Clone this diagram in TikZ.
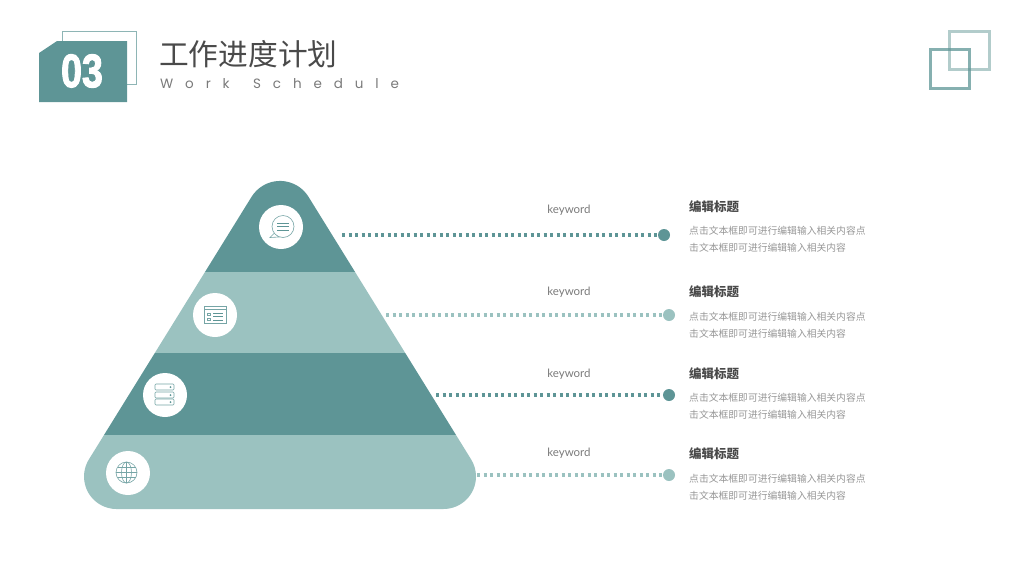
\documentclass[tikz,border=0pt]{standalone}
\usepackage{fontspec}
\setmainfont{Noto Sans CJK SC}
\newfontfamily\latinfont{Lato}
\newfontfamily\schedfont[LetterSpace=88]{Poppins}
\newfontfamily\numfont[BoldFeatures={FakeBold=2.4}]{Liberation Sans}
\definecolor{tealdark}{HTML}{5E9596}
\definecolor{teallight}{HTML}{9BC2C0}
\definecolor{framelight}{HTML}{B2CCCB}
\definecolor{titlegray}{HTML}{4A4A4A}
\definecolor{schedgray}{HTML}{7A7A7A}
\definecolor{bodygray}{HTML}{969696}
\tikzstyle{iconback}=[circle,fill=white,minimum size=44pt,inner sep=0pt]
\tikzstyle{enddot}=[circle,minimum size=12pt,inner sep=0pt]
\tikzstyle{dotline}=[line width=3.4pt,dash pattern=on 3.4pt off 3.1pt]
\tikzstyle{keyword}=[font=\latinfont\fontsize{11.5}{14}\selectfont,text=schedgray]
\tikzstyle{heading}=[anchor=west,inner sep=0pt,font=\bfseries\fontsize{12.5}{15}\selectfont,text=titlegray]
\tikzstyle{bodytext}=[anchor=west,inner sep=0pt,align=left,font=\fontsize{9.8}{17}\selectfont,text=bodygray]
\tikzstyle{iconline}=[draw=tealdark!85,line width=0.6pt]
\begin{document}
\begin{tikzpicture}[x=1pt,y=-1pt]
\useasboundingbox (0,0) rectangle (1024,576);

    % header
    \draw[draw=tealdark!70,line width=1pt] (62,31) rectangle (136,84);
    \fill[tealdark] (39,53) -- (57,41) -- (127,41) -- (127,102) -- (39,102) -- cycle;
    \node[text=white,inner sep=0pt,xscale=0.8,font=\numfont\bfseries\fontsize{47}{47}\selectfont] (num) at (82,71) {03};
    \node[anchor=west,inner sep=0pt,text=titlegray,font=\fontsize{29.7}{32}\selectfont] (title) at (159,54) {工作进度计划};
    \node[anchor=west,inner sep=0pt,text=schedgray,font=\schedfont\fontsize{13.5}{16}\selectfont] (sub) at (160,84) {Work \hspace{8pt}Schedule};

    % squares top right
    \draw[framelight,line width=3pt] (949,31) rectangle (989,69);
    \draw[tealdark,opacity=0.75,line width=3pt] (930,49) rectangle (969,88);

    % pyramid
    \begin{scope}
    \clip (116.5,509) -- (443.5,509) arc[start angle=90,end angle=-31.8,radius=32.5]
        -- (308.5,196.8) arc[start angle=-31.8,end angle=-148.2,radius=33.5]
        -- (88.9,459.4) arc[start angle=-148.2,end angle=-270,radius=32.5] -- cycle;
    \foreach \top/\bot/\col in {140/272/tealdark, 272/353/teallight, 353/435/tealdark, 435/520/teallight}
        \fill[\col] (40,\top) rectangle (520,\bot);
    \end{scope}

    % icon circles
    \foreach \pos/\name in {{(281,227)/ica},{(215,315)/icb},{(165,395)/icc},{(128,473)/icd}}
        \node[iconback] (\name) at \pos {};

    % connect rows
    \foreach \name/\sx/\ex/\yy/\col in {a/342/664/235/tealdark, b/386/669/315/teallight, c/436/669/395/tealdark, d/477/669/475/teallight} {
        \coordinate (s\name) at (\sx,\yy);
        \node[enddot,fill=\col] (e\name) at (\ex,\yy) {};
        \draw[dotline,\col] (s\name) -- (e\name);
    }

    % texts
    \foreach \name/\yk/\yh/\yb in {a/210.5/207/239.5, b/292.5/292/325.5, c/374.5/374/406.5, d/453.5/454/487.5} {
        \node[keyword] (k\name) at (569,\yk) {keyword};
        \node[heading] (h\name) at (689,\yh) {编辑标题};
        \node[bodytext] (t\name) at (689,\yb) {点击文本框即可进行编辑输入相关内容点\\击文本框即可进行编辑输入相关内容};
    }

    % speech bubble
    \draw[iconline,fill=white] (274.5,233) -- (270,237.5) -- (279,237) -- cycle;
    \draw[iconline,fill=white] (283,226.5) circle (11);
    \foreach \yy in {223,226.5,230}
        \draw[tealdark,line width=0.9pt] (277,\yy) -- (289,\yy);

    % window
    \draw[iconline] (204.5,306) rectangle (226,323);
    \draw[iconline] (204.5,309) -- (226,309);
    \foreach \yy in {313,316,320}
        \draw[tealdark,line width=0.8pt] (213,\yy) -- (223,\yy);
    \foreach \yy in {313,318}
        \draw[iconline] (207.5,\yy) rectangle +(3,2);

    % server
    \foreach \yy in {384,392,399} {
        \draw[iconline,rounded corners=1pt] (155,\yy) rectangle +(19,6);
        \fill[tealdark] (170.5,\yy+3) circle (1pt);
    }

    % globe
    \draw[iconline] (126.5,472.5) circle (10.5);
    \draw[iconline] (126.5,472.5) ellipse (5 and 10.5);
    \draw[iconline] (126.5,462) -- (126.5,483);
    \draw[iconline] (116,472.5) -- (137,472.5);
    \draw[iconline] (117.5,467.5) -- (135.5,467.5);
    \draw[iconline] (117.5,477.5) -- (135.5,477.5);

\end{tikzpicture}
\end{document}
